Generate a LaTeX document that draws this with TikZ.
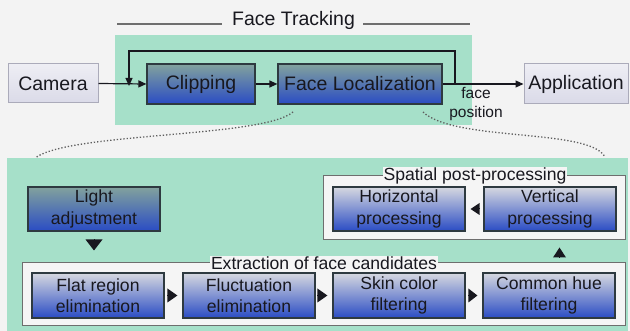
\documentclass[tikz,border=0pt]{standalone}
\usepackage{fontspec}
\setmainfont{Liberation Sans}
\usetikzlibrary{arrows.meta}

\definecolor{pagebg}{HTML}{F3F3F3}
\definecolor{mint}{HTML}{A6E0C9}
\definecolor{ink}{HTML}{18181F}
\definecolor{edge}{HTML}{2E3A40}
\definecolor{greytop}{HTML}{82A29D}
\definecolor{bluebot}{HTML}{2A4CC4}
\definecolor{palettop}{HTML}{D6D8E0}
\definecolor{camtop}{HTML}{EEEEF4}
\definecolor{cambot}{HTML}{DADAE8}
\definecolor{camedge}{HTML}{ABABBA}
\definecolor{groupfill}{HTML}{F5F5F5}
\definecolor{groupedge}{HTML}{6E6E6E}
\definecolor{dotgrey}{HTML}{5E5E5E}

\tikzset{
  bigfont/.style={font=\fontsize{19.5}{22}\selectfont},
  smallfont/.style={font=\fontsize{17.6}{21.5}\selectfont},
  io/.style={draw=camedge, line width=1pt, top color=camtop, bottom color=cambot,
    text=ink, inner sep=0pt, minimum height=39pt, bigfont},
  darkbox/.style={draw=edge, line width=1.2pt, top color=greytop, bottom color=bluebot,
    text=ink, inner sep=0pt, align=center},
  palebox/.style={draw=edge, line width=1.2pt, top color=palettop, bottom color=bluebot,
    text=ink, inner sep=0pt, align=center, minimum width=132pt, minimum height=45pt, smallfont},
  groupbox/.style={draw=groupedge, line width=1pt, fill=groupfill, inner sep=0pt},
  grouptitle/.style={fill=groupfill, text=ink, inner sep=1pt, smallfont},
  arr/.style={draw=ink, line width=1.2pt, -{Triangle[length=8pt,width=7pt]}},
  tip/.style={draw=ink, fill=ink, line width=0pt},
  trail/.style={draw=dotgrey, line width=1.3pt, dash pattern=on 1.3pt off 2pt}
}

\begin{document}
\begin{tikzpicture}[x=1pt, y=-1pt]
  % page
  \path[use as bounding box, fill=pagebg] (0,0) rectangle (630,331);

  % panels
  \fill[mint] (115,35) rectangle (472,125);
  \fill[mint] (7,158) rectangle (628,331);

  % title of the tracking stage
  \node[bigfont, text=ink, inner sep=0pt] (tracktitle) at (293.5,20) {Face Tracking};
  \draw[groupedge, line width=1.4pt] (117,24) -- (222,24);
  \draw[groupedge, line width=1.4pt] (363,24) -- (470,24);

  % upper chain
  \node[io, minimum width=90pt] (camera) at (53,83.5) {Camera};
  \node[darkbox, bigfont, minimum width=108pt, minimum height=40pt] (clip) at (201,84) {Clipping};
  \node[darkbox, bigfont, minimum width=164pt, minimum height=40pt] (loc) at (360,84) {Face Localization};
  \node[io, minimum width=104pt, minimum height=40pt] (app) at (576,84) {Application};

  \coordinate (split) at (455,84);
  \coordinate (merge) at (129,84);

  \draw[arr] (camera.east) -- (clip.west);
  \draw[arr] (clip.east) -- (loc.west);
  \draw[arr] (loc.east) -- (app.west);
  \draw[arr] (split) -- ++(0,-33) -| ([yshift=-2pt]merge);

  \node[text=ink, inner sep=0pt, align=center, font=\fontsize{15.5}{19}\selectfont]
    (facepos) at (476,104) {face\\position};

  % zoom trails towards the detail panel
  \draw[trail] (293,112) .. controls (262,138) and (70,132) .. (35,158);
  \draw[trail] (423,112) .. controls (455,142) and (590,128) .. (605,157);

  % detail panel
  \node[darkbox, smallfont, minimum width=132pt, minimum height=44pt] (light) at (94,209) {Light\\adjustment};

  \node[groupbox, minimum width=302pt, minimum height=64pt] (spatial) at (474,208) {};
  \node[grouptitle] (spatialtitle) at (475,176) {Spatial post-processing};

  \node[groupbox, minimum width=603pt, minimum height=63pt] (extract) at (323.5,294.5) {};
  \node[grouptitle] (extracttitle) at (324,263) {Extraction of face candidates};

  \node[palebox, minimum height=44pt] (horiz) at (399,209) {Horizontal\\processing};
  \node[palebox, minimum height=44pt] (vert) at (550,209) {Vertical\\processing};

  \node[palebox] (flat) at (98,295.5) {Flat region\\elimination};
  \node[palebox] (fluct) at (249,295.5) {Fluctuation\\elimination};
  \node[palebox] (skin) at (399,295.5) {Skin color\\filtering};
  \node[palebox] (hue) at (549,295.5) {Common hue\\filtering};

  % step markers between the boxes
  \draw[tip, shorten <=4pt, shorten >=5pt, -{Triangle[length=10pt,width=14pt]}] (flat.east) -- (fluct.west);
  \draw[tip, shorten <=4pt, shorten >=5pt, -{Triangle[length=10pt,width=14pt]}] (fluct.east) -- (skin.west);
  \draw[tip, shorten <=5pt, shorten >=5pt, -{Triangle[length=9pt,width=14pt]}] (skin.east) -- (hue.west);
  \draw[tip, shorten <=5pt, shorten >=5pt, -{Triangle[length=9pt,width=12pt]}] (vert.west) -- (horiz.east);
  \draw[tip, shorten <=9pt, shorten >=12pt, -{Triangle[length=11pt,width=17pt]}] (light.south) -- (light.south |- extract.north);
  \coordinate (upfoot) at (559.5,263);
  \draw[tip, shorten <=6pt, shorten >=7pt, -{Triangle[length=10pt,width=13pt]}] (upfoot) -- (upfoot |- spatial.south);
\end{tikzpicture}
\end{document}
